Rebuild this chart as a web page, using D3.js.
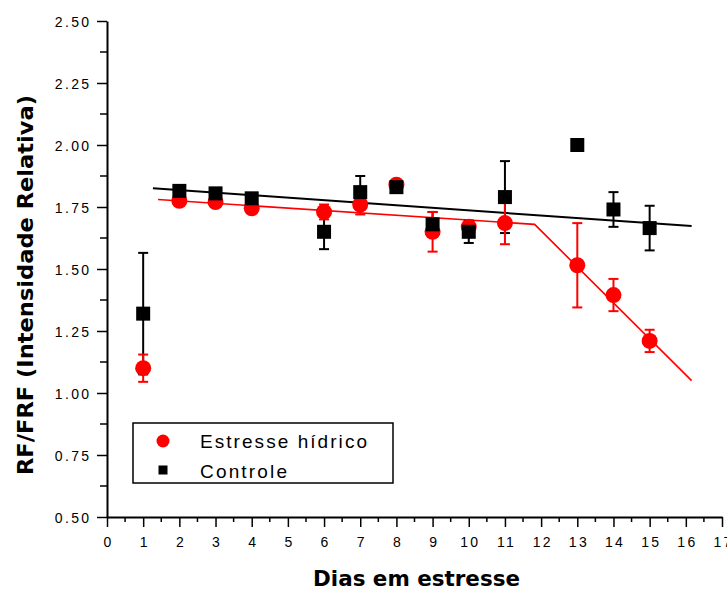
<!DOCTYPE html>
<html>
<head>
<meta charset="utf-8">
<script src="https://cdn.jsdelivr.net/npm/d3@7"></script>
<style>
  html, body { margin: 0; padding: 0; background: #fff; }
  svg { display: block; }
</style>
</head>
<body>
<svg id="chart" width="727" height="590"></svg>
<script>
// ---- Data ----
const days = [1, 2, 3, 4, 6, 7, 8, 9, 10, 11, 13, 14, 15];
const estresse = [1.10, 1.775, 1.77, 1.745, 1.73, 1.76, 1.84, 1.65, 1.67, 1.685, 1.515, 1.395, 1.21];
const estresseErr = [0.055, 0.01, 0.01, 0.01, 0.03, 0.04, 0.02, 0.08, 0.02, 0.085, 0.17, 0.065, 0.045];
const controle = [1.32, 1.815, 1.805, 1.785, 1.65, 1.81, 1.83, 1.68, 1.65, 1.79, 2.00, 1.74, 1.665];
const controleErr = [0.245, 0.01, 0.01, 0.01, 0.07, 0.065, 0.01, 0.05, 0.045, 0.145, 0, 0.07, 0.09];
// fitted lines (x, y)
const controleFitX = [1.27, 16.16];
const controleFitY = [1.826, 1.673];
const estresseFitX = [1.41, 11.82, 16.16];
const estresseFitY = [1.78, 1.68, 1.05];
const xTicks = d3.range(0, 18, 1);
const yTicks = [0.50, 0.75, 1.00, 1.25, 1.50, 1.75, 2.00, 2.25, 2.50];
const seriesNames = ["Estresse hídrico", "Controle"];
const xTitle = "Dias em estresse";
const yTitle = "RF/FRF (Intensidade Relativa)";

// ---- Layout ----
const svg = d3.select("#chart");
const x = d3.scaleLinear().domain([0, 17]).range([107, 722]);
const y = d3.scaleLinear().domain([0.5, 2.5]).range([517, 21]);
const RED = "#ff0000";

// minor ticks
const gMinor = svg.append("g");
gMinor.selectAll("line.mx").data(d3.range(0.5, 17, 1)).join("line")
  .attr("x1", d => x(d)).attr("x2", d => x(d))
  .attr("y1", y(0.5)).attr("y2", y(0.5) + 5)
  .attr("stroke", "#000").attr("stroke-width", 1.5);
gMinor.selectAll("line.my").data(d3.range(0.625, 2.5, 0.25)).join("line")
  .attr("x1", x(0)).attr("x2", x(0) - 7)
  .attr("y1", d => y(d)).attr("y2", d => y(d))
  .attr("stroke", "#000").attr("stroke-width", 1.5);

// axes
const xAxis = d3.axisBottom(x).tickValues(xTicks).tickSize(10).tickSizeOuter(0).tickFormat(d3.format("d"));
const yAxis = d3.axisLeft(y).tickValues(yTicks).tickSize(10).tickSizeOuter(0).tickFormat(d3.format(".2f"));

const gx = svg.append("g").attr("transform", `translate(0,${y(0.5)})`).call(xAxis);
const gy = svg.append("g").attr("transform", `translate(${x(0)},0)`).call(yAxis);

[gx, gy].forEach(g => {
  g.select(".domain").attr("stroke", "#000").attr("stroke-width", 2);
  g.selectAll(".tick line").attr("stroke", "#000").attr("stroke-width", 1.5);
  g.selectAll(".tick text")
    .attr("fill", "#000")
    .style("font-family", "'Liberation Sans', Arial, sans-serif")
    .style("font-size", "14px")
    .style("letter-spacing", "2.3px");
});
gx.selectAll(".tick text").attr("y", 20).attr("dy", "0.71em").attr("dx", "1.1px");
gy.selectAll(".tick text").attr("x", -18).attr("dy", "0.36em").attr("dx", "2.3px");

// ---- Fit lines ----
const line = d3.line().x(d => x(d[0])).y(d => y(d[1]));
svg.append("path")
  .attr("d", line(controleFitX.map((v, i) => [v, controleFitY[i]])))
  .attr("fill", "none").attr("stroke", "#000").attr("stroke-width", 2);
svg.append("path")
  .attr("d", line(estresseFitX.map((v, i) => [v, estresseFitY[i]])))
  .attr("fill", "none").attr("stroke", RED).attr("stroke-width", 1.6);

// ---- Error bars ----
function errorBars(vals, errs, color) {
  const g = svg.append("g").attr("stroke", color).attr("stroke-width", 2);
  days.forEach((d, i) => {
    if (!errs[i]) return;
    const cx = x(d), y1 = y(vals[i] + errs[i]), y2 = y(vals[i] - errs[i]);
    g.append("line").attr("x1", cx).attr("x2", cx).attr("y1", y1).attr("y2", y2);
    g.append("line").attr("x1", cx - 5).attr("x2", cx + 5).attr("y1", y1).attr("y2", y1);
    g.append("line").attr("x1", cx - 5).attr("x2", cx + 5).attr("y1", y2).attr("y2", y2);
  });
}
errorBars(controle, controleErr, "#000");
errorBars(estresse, estresseErr, RED);

// ---- Markers ----
svg.append("g").selectAll("circle").data(days).join("circle")
  .attr("cx", d => x(d)).attr("cy", (d, i) => y(estresse[i])).attr("r", 8)
  .attr("fill", RED);
svg.append("g").selectAll("rect").data(days).join("rect")
  .attr("x", d => x(d) - 7).attr("y", (d, i) => y(controle[i]) - 7)
  .attr("width", 14).attr("height", 14).attr("fill", "#000");

// ---- Legend ----
const lg = svg.append("g");
lg.append("rect").attr("x", 133).attr("y", 423).attr("width", 260).attr("height", 60)
  .attr("fill", "#fff").attr("stroke", "#000").attr("stroke-width", 1.5);
lg.append("circle").attr("cx", 163).attr("cy", 441).attr("r", 6.5).attr("fill", RED);
lg.append("rect").attr("x", 158.5).attr("y", 465.5).attr("width", 9).attr("height", 9).attr("fill", "#000");
const legendFont = "'Liberation Sans', Arial, sans-serif";
lg.append("text").attr("x", 200).attr("y", 448).text(seriesNames[0])
  .attr("textLength", 167).attr("lengthAdjust", "spacing")
  .style("font-family", legendFont).style("font-size", "19px").attr("fill", "#000");
lg.append("text").attr("x", 200).attr("y", 478).text(seriesNames[1])
  .attr("textLength", 87).attr("lengthAdjust", "spacing")
  .style("font-family", legendFont).style("font-size", "19px").attr("fill", "#000");

// ---- Axis titles ----
const titleFont = "'DejaVu Sans', Verdana, sans-serif";
svg.append("text").attr("x", 313).attr("y", 586).text(xTitle)
  .attr("textLength", 207).attr("lengthAdjust", "spacingAndGlyphs")
  .style("font-family", titleFont).style("font-weight", "bold").style("font-size", "21px").attr("fill", "#000");
svg.append("text").attr("transform", "translate(33,475) rotate(-90)").text(yTitle)
  .attr("textLength", 380).attr("lengthAdjust", "spacingAndGlyphs")
  .style("font-family", titleFont).style("font-weight", "bold").style("font-size", "21px").attr("fill", "#000");
</script>
</body>
</html>
